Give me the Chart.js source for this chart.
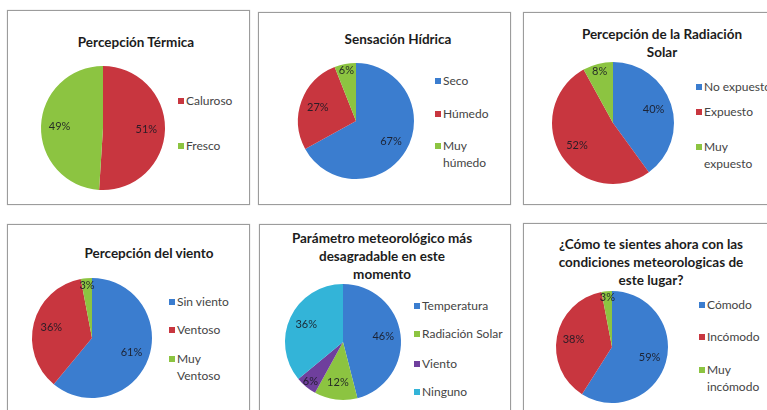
<!DOCTYPE html>
<html>
<head>
<meta charset="utf-8">
<script src="https://cdn.jsdelivr.net/npm/chart.js@4/dist/chart.umd.min.js"></script>
<style>
  html, body { margin: 0; padding: 0; background: #fff; }
  body { width: 767px; height: 410px; overflow: hidden; position: relative; font-family: Lato, 'Open Sans', sans-serif; }
  .box { position: absolute; border: 1px solid #9c9c9c; box-shadow: 0 0 1px #bbb; overflow: hidden; background: #fff; }
  .title { position: absolute; width: 300px; text-align: center; font-weight: bold; font-size: 13.5px; line-height: 18px; color: #1c1c1c; }
  .pie { position: absolute; }
  .leg { position: absolute; font-size: 12px; line-height: 17px; color: #444; white-space: nowrap; }
  .leg i { position: absolute; left: 0; top: 6px; width: 6px; height: 6px; }
  .leg span { display: block; padding-left: 8px; }
</style>
</head>
<body>
<script>
// ══ DATA ══
const thermalLabels = ['Caluroso', 'Fresco'];
const thermalValues = [51, 49];

const humidLabels = ['Seco', 'Húmedo', 'Muy húmedo'];
const humidValues = [67, 27, 6];

const solarLabels = ['No expuesto', 'Expuesto', 'Muy expuesto'];
const solarValues = [40, 52, 8];

const windLabels = ['Sin viento', 'Ventoso', 'Muy Ventoso'];
const windValues = [61, 36, 3];

const worstLabels = ['Temperatura', 'Radiación Solar', 'Viento', 'Ninguno'];
const worstValues = [46, 12, 6, 36];

const comfortLabels = ['Cómodo', 'Incómodo', 'Muy incómodo'];
const comfortValues = [59, 38, 3];

// ══ STYLE ══
const BLUE = '#3b7dcf', RED = '#c8363f', GREEN = '#8cc441', PURPLE = '#6f3f9d', CYAN = '#33b4d8';

const panels = [
  { title: ['Percepción Térmica'], labels: thermalLabels, values: thermalValues, colors: [RED, GREEN],
    box: { l: 7, t: 10, w: 241, h: 193 }, tx: 135, ty: 41,
    pie: { cx: 102, cy: 127, r: 62 }, leg: { x: 177, ys: [99, 144] }, wrap: [] },
  { title: ['Sensación Hídrica'], labels: humidLabels, values: humidValues, colors: [BLUE, RED, GREEN],
    box: { l: 258, t: 12, w: 251, h: 191 }, tx: 397, ty: 38,
    pie: { cx: 355, cy: 120, r: 58 }, leg: { x: 434, ys: [79, 112, 144] }, wrap: [2] },
  { title: ['Percepción de la Radiación', 'Solar'], labels: solarLabels, values: solarValues, colors: [BLUE, RED, GREEN],
    box: { l: 523, t: 12, w: 250, h: 191 }, tx: 661, ty: 33,
    pie: { cx: 612, cy: 122, r: 61 }, leg: { x: 695, ys: [85, 110, 145] }, wrap: [2] },
  { title: ['Percepción del viento'], labels: windLabels, values: windValues, colors: [BLUE, RED, GREEN],
    box: { l: 7, t: 224, w: 241, h: 200 }, tx: 148, ty: 252,
    pie: { cx: 91, cy: 337, r: 60 }, leg: { x: 168, ys: [300, 328, 357] }, wrap: [2] },
  { title: ['Parámetro meteorológico más', 'desagradable en este', 'momento'], labels: worstLabels, values: worstValues, colors: [BLUE, GREEN, PURPLE, CYAN],
    box: { l: 259, t: 224, w: 250, h: 200 }, tx: 381, ty: 237,
    pie: { cx: 342, cy: 341, r: 58 }, leg: { x: 413, ys: [304, 332, 362, 390] }, wrap: [] },
  { title: ['¿Cómo te sientes ahora con las', 'condiciones meteorologicas de', 'este lugar?'], labels: comfortLabels, values: comfortValues, colors: [BLUE, RED, GREEN],
    box: { l: 523, t: 223, w: 250, h: 200 }, tx: 650, ty: 243,
    pie: { cx: 611, cy: 346, r: 56 }, leg: { x: 698, ys: [303, 335, 368] }, wrap: [2] }
];

// percentage labels drawn on the slices
const pctLabels = {
  id: 'pctLabels',
  afterDatasetsDraw(chart) {
    const { ctx } = chart;
    const meta = chart.getDatasetMeta(0);
    const data = chart.data.datasets[0].data;
    ctx.save();
    ctx.font = '11px Lato, sans-serif';
    ctx.fillStyle = 'rgba(25,25,35,0.9)';
    ctx.textAlign = 'center';
    ctx.textBaseline = 'middle';
    meta.data.forEach((arc, i) => {
      const mid = (arc.startAngle + arc.endAngle) / 2;
      const f = data[i] < 10 ? 0.88 : 0.7;
      const x = arc.x + Math.cos(mid) * arc.outerRadius * f;
      const y = arc.y + Math.sin(mid) * arc.outerRadius * f;
      ctx.fillText(data[i] + '%', x, y);
    });
    ctx.restore();
  }
};

const PAD = 12;

panels.forEach(p => {
  const b = p.box;
  const box = document.createElement('div');
  box.className = 'box';
  box.style.cssText = `left:${b.l}px;top:${b.t}px;width:${b.w}px;height:${b.h}px;`;
  document.body.appendChild(box);

  const t = document.createElement('div');
  t.className = 'title';
  t.style.left = (p.tx - b.l - 150) + 'px';
  t.style.top = (p.ty - b.t - 9) + 'px';
  t.innerHTML = p.title.join('<br>');
  box.appendChild(t);

  const size = p.pie.r * 2 + PAD * 2;
  const cv = document.createElement('canvas');
  cv.className = 'pie';
  cv.width = size; cv.height = size;
  cv.style.cssText = `left:${p.pie.cx - p.pie.r - PAD - b.l}px;top:${p.pie.cy - p.pie.r - PAD - b.t}px;width:${size}px;height:${size}px;`;
  box.appendChild(cv);

  new Chart(cv, {
    type: 'pie',
    data: {
      labels: p.labels,
      datasets: [{ data: p.values, backgroundColor: p.colors, borderWidth: 0 }]
    },
    options: {
      responsive: false,
      animation: false,
      layout: { padding: PAD },
      plugins: { legend: { display: false }, tooltip: { enabled: false } }
    },
    plugins: [pctLabels]
  });

  p.labels.forEach((lab, i) => {
    const el = document.createElement('div');
    el.className = 'leg';
    el.style.left = (p.leg.x - b.l) + 'px';
    el.style.top = (p.leg.ys[i] - b.t - 8) + 'px';
    const txt = p.wrap.includes(i) ? lab.replace(' ', '<br>') : lab;
    el.innerHTML = `<i style="background:${p.colors[i]}"></i><span>${txt}</span>`;
    box.appendChild(el);
  });
});
</script>
</body>
</html>
